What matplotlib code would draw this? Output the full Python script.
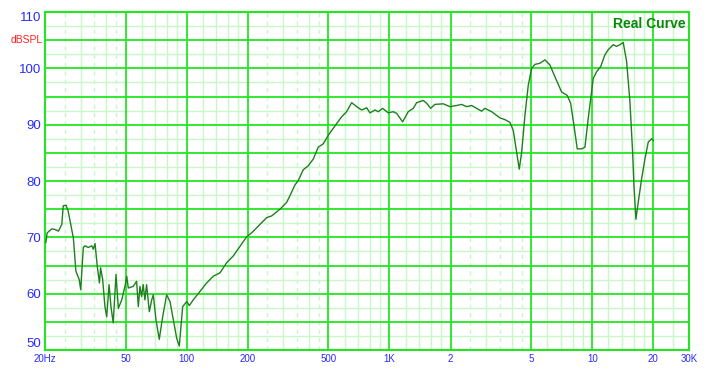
import numpy as np
import matplotlib
matplotlib.use("Agg")
import matplotlib.pyplot as plt

# ---- data (frequency in Hz, level in dB SPL) ----
freq_hz = [20.2, 20.5, 21.6, 22.4, 23.3, 24.2, 24.6, 25.4, 26.0, 27.6, 28.4, 29.5, 30.0,
           30.9, 31.5, 32.7, 34.0, 34.6, 35.3, 36.2, 37.1, 37.6, 38.5, 39.5, 40.3, 41.4,
           42.3, 43.4, 44.8, 46.0, 47.8, 49.6, 50.6, 51.5, 54.5, 56.6, 57.7, 58.8, 59.9,
           61.0, 62.2, 63.4, 65.4, 67.2, 68.4, 70.5, 73.2, 76.1, 79.6, 82.7, 85.8, 89.2,
           91.9, 95.5, 100, 103, 107.7, 116.2, 125.4, 135.2, 145.9, 157.4, 169.7,
           197.5, 209, 229.8, 248, 262.4, 288.4, 311, 323, 341.8, 354.9, 375.6, 397.4,
           420.8, 445.3, 471.3, 498.6, 548.8, 580.7, 614.6, 650.5, 688.7, 728.8, 771.6,
           801, 848, 880, 925, 986, 1044, 1085, 1161, 1237, 1310, 1361, 1467, 1525, 1596,
           1675, 1841, 1986, 2143, 2268, 2401, 2541, 2690, 2847, 2955, 3190, 3505, 3709,
           3927, 4077, 4237, 4365, 4485, 4657, 4835, 5024, 5217, 5519, 5842, 6183, 6545,
           7062, 7527, 7823, 8122, 8432, 8863, 9202, 9553, 10111, 10508, 11000, 11547,
           11988, 12689, 13187, 13692, 14215, 14773, 15337, 15815, 16050, 16420, 16850,
           17520, 18190, 18884, 19620, 19980]
level_db = [69.1, 70.8, 71.5, 71.4, 71.1, 72.3, 75.6, 75.7, 74.7, 69.9, 64.0, 62.5, 60.7,
            68.2, 68.5, 68.2, 68.5, 67.9, 68.9, 64.9, 61.9, 64.6, 62.5, 57.7, 55.9, 61.6,
            57.7, 54.8, 63.4, 57.4, 58.9, 61.3, 63.1, 61.0, 61.3, 62.2, 57.7, 61.3, 59.5,
            61.6, 58.9, 61.6, 56.8, 58.9, 59.8, 55.4, 51.9, 55.9, 59.8, 58.6, 55.4, 52.1,
            50.7, 57.7, 58.6, 57.9, 58.9, 60.4, 61.9, 63.1, 63.7, 65.5, 66.7,
            70.1, 70.8, 72.3, 73.5, 73.8, 75.0, 76.2, 77.4, 79.3, 80.1, 82.0, 82.7,
            83.9, 86.0, 86.6, 88.1, 90.2, 91.4, 92.3, 93.9, 93.2, 92.6, 93.0,
            92.1, 92.6, 92.3, 92.9, 92.1, 92.3, 92.0, 90.5, 92.3, 92.9, 93.9, 94.3, 93.8, 92.9,
            93.6, 93.7, 93.2, 93.4, 93.6, 93.2, 93.4, 92.9, 92.4, 92.9, 92.3, 91.2, 90.9,
            90.4, 89.0, 85.1, 82.1, 85.1, 91.7, 97.0, 100.0, 100.7, 100.9, 101.5, 100.6, 98.5,
            95.8, 95.2, 93.8, 89.9, 85.7, 85.7, 86.0, 91.1, 98.2, 99.4, 100.3, 102.4,
            103.3, 104.2, 103.9, 104.2, 104.6, 101.2, 94.1, 85.1, 79.2, 73.2, 76.2,
            80.4, 83.9, 86.9, 87.5, 87.2]

x_tick_values = [20, 50, 100, 200, 500, 1000, 2000, 5000, 10000, 20000, 30000]
x_tick_labels = ["20Hz", "50", "100", "200", "500", "1K", "2", "5", "10", "20", "30K"]
y_tick_values = [50, 60, 70, 80, 90, 100, 110]

major_x = [50, 100, 200, 500, 1000, 2000, 5000, 10000, 20000]
minor_solid_x = [30, 40, 60, 70, 80, 90, 120, 140, 160, 180, 300, 400, 600, 700, 800, 900,
                 1200, 1400, 1600, 1800, 3000, 4000, 6000, 7000, 8000, 9000,
                 12000, 14000, 16000, 18000, 25000]
minor_dash_x = [25, 35, 45, 250, 350, 450, 2500, 3500, 4500]
major_y = [55, 60, 65, 70, 75, 80, 85, 90, 95, 100, 105]
minor_y = [52.5, 57.5, 62.5, 67.5, 72.5, 77.5, 82.5, 87.5, 92.5, 97.5, 102.5, 107.5]

title_text = "Real Curve"
y_unit = "dBSPL"

# ---- style ----
MAJOR = "#22e622"
LIGHT = "#c8f8c8"
CURVE = "#1f7f1f"
BLUE = "#2a2aff"

plt.rcParams['font.family'] = ['Liberation Sans', 'DejaVu Sans']

W, H = 724, 381
fig = plt.figure(figsize=(W / 100, H / 100), dpi=100)
ax = fig.add_axes([45 / W, (H - 350) / H, (689 - 45) / W, (350 - 12) / H])
ax.set_xscale('log')
ax.set_xlim(20, 30000)
ax.set_ylim(50, 110)

for v in minor_solid_x:
    ax.axvline(v, color=LIGHT, lw=1.0, zorder=1)
for v in minor_dash_x:
    ax.axvline(v, color=LIGHT, lw=1.0, ls=(0, (3, 3)), zorder=1)
for v in minor_y:
    ax.axhline(v, color=LIGHT, lw=1.0, zorder=1)
for v in major_x:
    ax.axvline(v, color=MAJOR, lw=1.3, zorder=2)
for v in major_y:
    ax.axhline(v, color=MAJOR, lw=1.3, zorder=2)

ax.plot(freq_hz, level_db, color=CURVE, lw=1.0, zorder=3)

for s in ax.spines.values():
    s.set_color(MAJOR)
    s.set_linewidth(1.5)

ax.xaxis.set_minor_locator(matplotlib.ticker.NullLocator())
ax.set_xticks(x_tick_values)
ax.set_xticklabels(x_tick_labels)
ax.set_yticks(y_tick_values)
ax.set_yticklabels([str(v) for v in y_tick_values])
ax.tick_params(axis='x', length=0, pad=3, labelsize=7, labelcolor=BLUE)
ax.tick_params(axis='y', length=0, pad=3, labelsize=9.5, labelcolor=BLUE)
ylabels = ax.get_yticklabels()
ylabels[0].set_va('bottom')
ylabels[-1].set_va('top')

ax.text(-0.003, 105, y_unit, transform=ax.get_yaxis_transform(), ha='right', va='center',
        color='#ff2020', fontsize=7.5)
ax.text(0.995, 0.985, title_text, transform=ax.transAxes, ha='right', va='top',
        color='#0a870a', fontsize=10, fontweight='bold')

fig.savefig("out.png", dpi=100, facecolor='white')
